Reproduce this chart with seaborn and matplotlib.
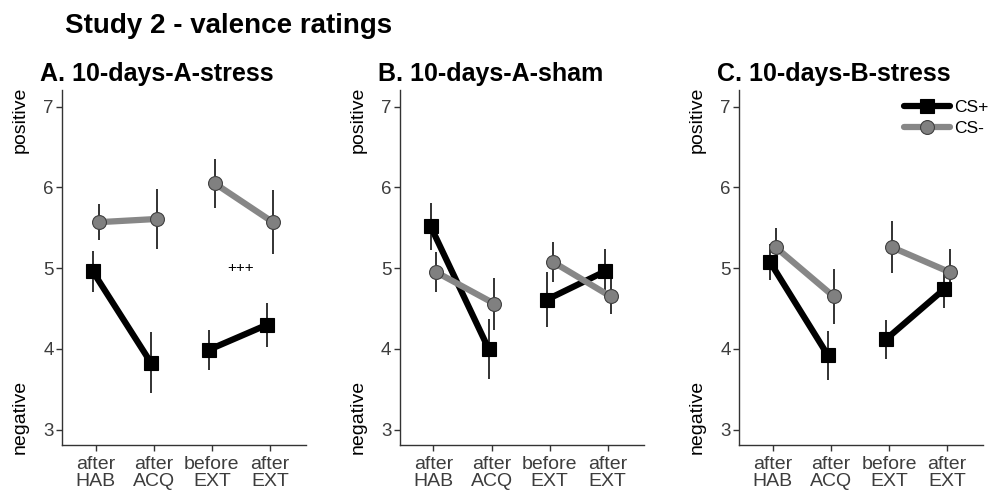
import numpy as np
import pandas as pd
import seaborn as sns
import matplotlib.pyplot as plt
from matplotlib.lines import Line2D

phases = ['after\nHAB', 'after\nACQ', 'before\nEXT', 'after\nEXT']
panels = ['A. 10-days-A-stress', 'B. 10-days-A-sham', 'C. 10-days-B-stress']
stimuli = ['CS+', 'CS-']

# mean valence per panel, stimulus, phase
cs_plus_mean = [[4.96, 3.83, 3.99, 4.30],
                [5.52, 4.00, 4.61, 4.96],
                [5.08, 3.92, 4.12, 4.74]]
cs_plus_se = [[0.25, 0.38, 0.25, 0.27],
              [0.29, 0.37, 0.34, 0.28],
              [0.22, 0.30, 0.24, 0.23]]
cs_minus_mean = [[5.57, 5.61, 6.05, 5.57],
                 [4.95, 4.56, 5.08, 4.65],
                 [5.26, 4.65, 5.26, 4.95]]
cs_minus_se = [[0.22, 0.37, 0.30, 0.40],
               [0.25, 0.32, 0.25, 0.22],
               [0.24, 0.34, 0.32, 0.29]]

segments = ['acq', 'acq', 'ext', 'ext']

rows = []
for p, panel in enumerate(panels):
    for stim in stimuli:
        means = cs_plus_mean if stim == 'CS+' else cs_minus_mean
        ses = cs_plus_se if stim == 'CS+' else cs_minus_se
        for k in range(len(phases)):
            rows.append(dict(panel=panel, stim=stim, phase=k,
                             seg=segments[k], mean=means[p][k], se=ses[p][k]))
df = pd.DataFrame(rows)
dodge = 0.05
df['x'] = df['phase'] + np.where(df['stim'] == 'CS+', -dodge, dodge)

sns.set_style('white')
plt.rcParams['font.family'] = ['Liberation Sans', 'DejaVu Sans']
plt.rcParams['text.color'] = 'black'

colors = {'CS+': 'black', 'CS-': '#878787'}
face = {'CS+': 'black', 'CS-': '#808080'}
edge = {'CS+': 'black', 'CS-': '#404040'}
markers = {'CS+': 's', 'CS-': 'o'}
lws = {'CS+': 4.5, 'CS-': 4.5}
msize = {'CS+': 9.5, 'CS-': 10}
tick_col = '#3d3d3d'

fig = plt.figure(figsize=(9.92, 4.92), dpi=100)
lefts = [0.0625, 0.403, 0.745]
width = 0.246
for p, panel in enumerate(panels):
    ax = fig.add_axes([lefts[p], 0.0955, width, 0.722])
    sub = df[df['panel'] == panel]
    for stim in stimuli:
        d = sub[sub['stim'] == stim]
        ax.errorbar(d['x'], d['mean'], yerr=d['se'], fmt='none',
                    ecolor='#222222', elinewidth=1.3, capsize=0, zorder=1)
        sns.lineplot(data=d, x='x', y='mean', units='seg', estimator=None,
                     color=colors[stim], lw=lws[stim], marker=markers[stim],
                     markersize=msize[stim], markerfacecolor=face[stim],
                     markeredgecolor=edge[stim], markeredgewidth=0.8, ax=ax,
                     zorder=3 if stim == 'CS+' else 4, legend=False)
    ax.set_xlim(-0.58, 3.62)
    ax.set_ylim(2.81, 7.21)
    ax.set_xticks(range(len(phases)))
    ax.set_xticklabels(phases, fontsize=14, color=tick_col, linespacing=1.0)
    ax.set_yticks([3, 4, 5, 6, 7])
    ax.set_yticklabels(['3', '4', '5', '6', '7'], fontsize=13.5, color=tick_col)
    ax.set_xlabel('')
    ax.set_ylabel('')
    ax.tick_params(axis='both', length=4, width=1, color='#333333',
                   left=True, bottom=True)
    ax.tick_params(axis='x', pad=4)
    ax.tick_params(axis='y', pad=2)
    for side in ['top', 'right']:
        ax.spines[side].set_visible(False)
    for side in ['left', 'bottom']:
        ax.spines[side].set_color('#333333')
        ax.spines[side].set_linewidth(1)
    ax.set_title(panel, fontsize=18, fontweight='bold', loc='left', x=-0.09,
                 pad=6, color='black')
    ax.text(-0.171, 1.01, 'positive', rotation=90, transform=ax.transAxes,
            ha='center', va='top', fontsize=14)
    ax.text(-0.171, -0.025, 'negative', rotation=90, transform=ax.transAxes,
            ha='center', va='bottom', fontsize=14)
    if p == 0:
        ax.text(2.5, 5.0, '+++', ha='center', va='center', fontsize=11)
    if p == 2:
        handles = [Line2D([], [], color=colors[s], lw=lws[s], marker=markers[s],
                          markersize=msize[s], markerfacecolor=face[s],
                          markeredgecolor=edge[s], markeredgewidth=0.8)
                   for s in stimuli]
        ax.legend(handles, stimuli, loc='upper right', bbox_to_anchor=(1.05, 0.99),
                  frameon=False, fontsize=12.5, handlelength=2.7, handletextpad=0.2,
                  labelspacing=0.3, borderaxespad=0)

fig.text(0.0655, 0.933, 'Study 2 - valence ratings', fontsize=20,
         fontweight='bold', va='baseline', color='black')
fig.savefig('out.png', dpi=100)
